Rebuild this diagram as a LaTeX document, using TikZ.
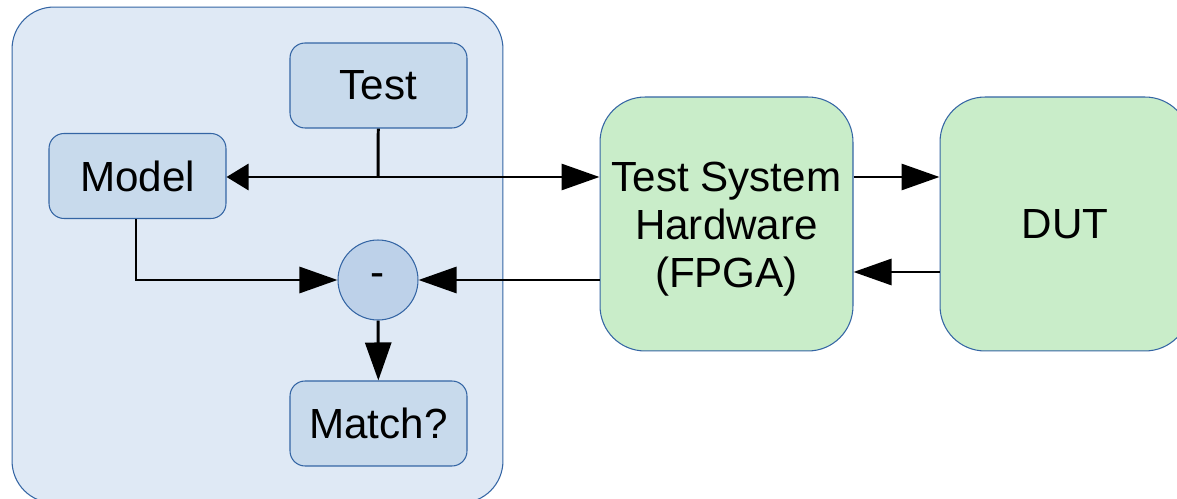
\documentclass[tikz,border=0pt]{standalone}
\usepackage{fontspec}
\setmainfont{Liberation Sans}
\usetikzlibrary{arrows.meta}
\definecolor{frameblue}{HTML}{3465A4}
\definecolor{hostfill}{HTML}{DFE9F5}
\definecolor{boxfill}{HTML}{C8DAEC}
\definecolor{sumfill}{HTML}{BDD1E9}
\definecolor{hwfill}{HTML}{C9EDC9}
\begin{document}
\begin{tikzpicture}[
    x=0.02cm, y=-0.02cm,
    font=\fontsize{24}{27.5}\selectfont,
    blk/.style={draw=frameblue, line width=0.6pt, fill=boxfill, rounded corners=0.3cm,
      minimum width=3.54cm, minimum height=1.7cm, inner sep=0pt},
    hwblk/.style={draw=frameblue, line width=0.6pt, fill=hwfill, rounded corners=0.9cm,
      minimum height=5.08cm, inner sep=0pt, align=center},
    sig/.style={line width=1.7pt, -{Triangle[length=0.76cm,width=0.52cm]}},
    wire/.style={line width=1.7pt}
    ]
  \clip (0,0) rectangle (1177,499);
  \fill[white] (0,0) rectangle (1177,499);
  % host side
  \node [draw=frameblue, line width=0.6pt, fill=hostfill, rounded corners=0.84cm,
    minimum width=9.82cm, minimum height=9.92cm, inner sep=0pt] (host) at (257.5,255) {};
  \node [blk] (test) at (378.5,85.5) {Test};
  \node [blk] (mdl) at (137.5,176) {Model};
  \node [circle, draw=frameblue, line width=0.6pt, fill=sumfill, minimum size=1.6cm,
    inner sep=0pt] (diff) at (378,280) {-};
  \node [blk] (match) at (378.5,423.5) {Match?};
  % test system
  \node [hwblk, minimum width=5.06cm,
    label={[align=center, yshift=-0.1cm]center:Test System\\Hardware\\(FPGA)}] (hw) at (726.5,224) {};
  \node [hwblk, minimum width=5.0cm] (dut) at (1065,224) {DUT};
  \coordinate (tap) at (378,177);
  \coordinate (back) at (896,272);
  % connections
  \draw [wire] (test) -- (tap);
  \draw [line width=1.7pt, {Triangle[length=0.44cm,width=0.52cm]}-{Triangle[length=0.76cm,width=0.52cm]}]
    (mdl.east |- tap) -- (hw.west |- tap);
  \draw [sig] (mdl.south -| 136,0) |- (diff.west);
  \draw [sig] (hw.west |- diff) -- (diff.east);
  \draw [sig] (diff) -- (match);
  \draw [sig] (hw.east |- tap) -- (dut.west |- tap);
  \draw [sig] (dut.west |- back) -- (hw.east |- back);
\end{tikzpicture}
\end{document}
